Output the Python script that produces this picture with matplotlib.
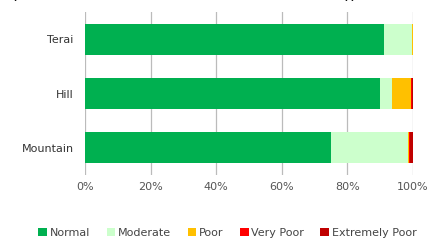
import numpy as np
import matplotlib.pyplot as plt
from matplotlib.ticker import PercentFormatter

regions = ['Mountain', 'Hill', 'Terai']
categories = ['Normal', 'Moderate', 'Poor', 'Very Poor', 'Extremely Poor']
colors = ['#00B050', '#CCFFCC', '#FFC000', '#FF0000', '#C00000']

normal = [75.0, 90.0, 91.0]
moderate = [23.3, 3.5, 8.7]
poor = [0.3, 5.9, 0.3]
very_poor = [0.4, 0.3, 0.0]
extremely_poor = [1.0, 0.3, 0.0]
series = [normal, moderate, poor, very_poor, extremely_poor]

fig = plt.figure(figsize=(4.29, 2.41), dpi=100)
ax = fig.add_axes([0.198, 0.274, 0.765, 0.676])

y = np.arange(len(regions))
left = np.zeros(len(regions))
for vals, name, c in zip(series, categories, colors):
    ax.barh(y, vals, left=left, height=0.57, color=c, label=name, zorder=2)
    left += np.array(vals)

ax.set_xlim(0, 100)
ax.set_ylim(-0.5, 2.5)
ax.set_yticks(y)
ax.set_yticklabels(regions, fontsize=8, color='#333333')
ax.set_xticks(np.arange(0, 101, 20))
ax.xaxis.set_major_formatter(PercentFormatter(decimals=0))
ax.tick_params(axis='x', labelsize=8, colors='#555555', length=0, pad=5)
ax.tick_params(axis='y', length=0, pad=8)
ax.grid(axis='x', color='#BBBBBB', linewidth=0.9, zorder=0)
for s in ax.spines.values():
    s.set_visible(False)

# bottom edge of a cropped caption line above the chart
fig.text(0.025, 0.988, '(', fontsize=13, va='bottom', color='#111111')
fig.text(0.80, 0.988, '))', fontsize=13, va='bottom', color='#111111')

handles, labels = ax.get_legend_handles_labels()
fig.legend(handles, labels, loc='center', bbox_to_anchor=(0.53, 0.035), ncol=5,
           frameon=False, fontsize=8, handlelength=0.8, handleheight=0.8,
           handletextpad=0.2, columnspacing=1.5, labelcolor='#444444')

fig.savefig('out.png', dpi=100)
